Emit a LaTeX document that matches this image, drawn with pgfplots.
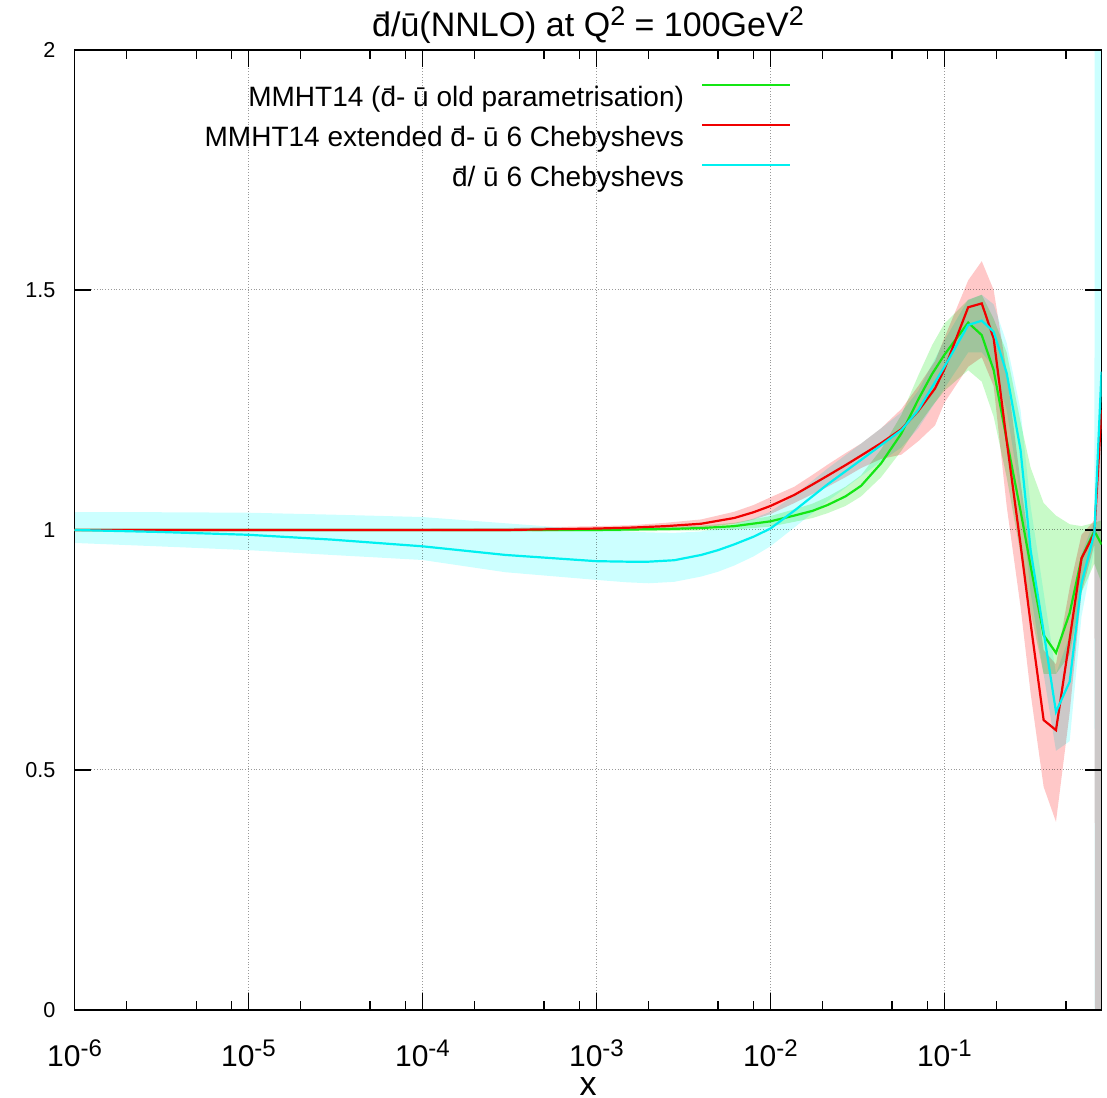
\documentclass[border=0pt]{standalone}
\usepackage{fontspec}
\setmainfont{Liberation Sans}
\usepackage{pgfplots}
\pgfplotsset{compat=1.18}
\usepgfplotslibrary{fillbetween}
\usepackage{pgfplotstable}

\definecolor{lgreen}{RGB}{20,230,20}
\definecolor{lred}{RGB}{240,0,0}
\definecolor{lcyan}{RGB}{0,240,240}
\definecolor{bgreen}{RGB}{200,250,200}
\definecolor{bred}{RGB}{255,200,200}
\definecolor{bcyan}{RGB}{204,255,255}

\newcommand\sups[3]{\raisebox{#1}{\fontsize{#2}{#2}\selectfont #3}}

\pgfplotstableread{
x y lo hi
1e-6 1.000 0.998 1.002
1e-5 1.000 0.998 1.002
1e-4 1.000 0.998 1.002
1e-3 1.000 0.997 1.003
2.5e-3 1.002 0.998 1.006
4e-3 1.004 0.999 1.009
6.2e-3 1.008 1.001 1.015
1e-2 1.018 1.007 1.029
0.0137 1.030 1.017 1.043
0.0175 1.040 1.025 1.055
0.0213 1.052 1.035 1.069
0.027 1.070 1.050 1.090
0.0332 1.092 1.070 1.114
0.0433 1.139 1.110 1.168
0.0566 1.201 1.165 1.240
0.0708 1.272 1.218 1.322
0.085 1.325 1.258 1.385
0.1 1.365 1.290 1.430
0.137 1.432 1.333 1.479
0.164 1.406 1.309 1.490
0.192 1.333 1.236 1.440
0.228 1.188 1.110 1.370
0.274 1.040 0.950 1.225
0.313 0.925 0.830 1.130
0.372 0.781 0.700 1.056
0.438 0.744 0.700 1.030
0.525 0.827 0.740 1.012
0.614 0.941 0.870 1.008
0.728 0.998 0.930 1.015
0.8 0.970 0.890 1.020
}\greentab

\pgfplotstableread{
x y lo hi
1e-6 1.000 0.997 1.003
1e-4 1.000 0.997 1.003
3e-4 1.000 0.997 1.004
1e-3 1.003 0.999 1.008
1.6e-3 1.005 1.000 1.010
2.5e-3 1.008 1.002 1.015
4e-3 1.013 1.005 1.022
6.2e-3 1.025 1.013 1.038
8e-3 1.037 1.022 1.052
1e-2 1.050 1.033 1.068
0.0137 1.073 1.056 1.090
0.0175 1.095 1.075 1.115
0.0213 1.113 1.090 1.136
0.027 1.135 1.110 1.160
0.0332 1.155 1.129 1.180
0.0433 1.181 1.148 1.212
0.0566 1.210 1.157 1.252
0.0708 1.248 1.185 1.300
0.0884 1.295 1.218 1.352
0.1 1.335 1.265 1.400
0.137 1.464 1.340 1.520
0.164 1.472 1.360 1.560
0.192 1.399 1.300 1.500
0.228 1.186 1.050 1.330
0.274 0.970 0.840 1.100
0.313 0.806 0.660 0.950
0.372 0.604 0.465 0.750
0.438 0.583 0.392 0.720
0.525 0.773 0.620 0.880
0.614 0.941 0.870 0.990
0.728 0.993 0.970 1.020
0.8 1.250 -10 1.350
}\redtab

\pgfplotstableread{
x y lo hi
1e-6 1.000 0.973 1.037
3e-6 0.996 0.966 1.037
1e-5 0.990 0.958 1.036
3e-5 0.980 0.948 1.032
1e-4 0.966 0.9375 1.027
3e-4 0.948 0.912 1.014
1e-3 0.935 0.896 1.000
1.5e-3 0.934 0.891 0.997
2e-3 0.934 0.889 0.995
2.8e-3 0.937 0.892 0.994
4e-3 0.948 0.903 0.997
5e-3 0.958 0.913 1.003
6.2e-3 0.970 0.926 1.012
8e-3 0.986 0.945 1.024
1e-2 1.003 0.966 1.038
0.0137 1.040 1.005 1.072
0.0213 1.095 1.060 1.128
0.0332 1.146 1.112 1.180
0.0433 1.177 1.143 1.212
0.0566 1.208 1.172 1.245
0.0708 1.250 1.212 1.290
0.1 1.340 1.295 1.395
0.137 1.427 1.370 1.480
0.164 1.436 1.370 1.490
0.192 1.413 1.340 1.470
0.228 1.327 1.250 1.390
0.274 1.167 1.070 1.250
0.313 0.958 0.870 1.050
0.372 0.788 0.700 0.870
0.438 0.621 0.540 0.700
0.525 0.684 0.560 0.780
0.614 0.889 0.820 0.950
0.728 0.993 0.960 1.020
0.8 1.330 -20 20
}\cyantab

\begin{document}
\begin{tikzpicture}
\begin{axis}[
  scale only axis, width=513.5pt, height=480pt,
  xmode=log, log basis x=10,
  xmin=1e-6, xmax=0.8, ymin=0, ymax=2,
  xtick={1e-6,1e-5,1e-4,1e-3,1e-2,1e-1},
  xticklabels={10\sups{5pt}{12}{-6},10\sups{5pt}{12}{-5},10\sups{5pt}{12}{-4},10\sups{5pt}{12}{-3},10\sups{5pt}{12}{-2},10\sups{5pt}{12}{-1}},
  minor xtick={2e-6,5e-6,8e-6,2e-5,5e-5,8e-5,2e-4,5e-4,8e-4,2e-3,5e-3,8e-3,2e-2,5e-2,8e-2,0.2,0.5,0.8},
  ytick={0,0.5,1,1.5,2}, yticklabels={0,0.5,1,1.5,2},
  grid=major, major grid style={densely dotted, gray!80, line width=0.5pt},
  tick align=inside,
  major tick length=8.5pt, minor tick length=4.5pt,
  every tick/.style={black, line width=0.6pt},
  axis line style={line width=0.6pt},
  xticklabel style={font=\fontsize{15}{18}\selectfont, anchor=base, yshift=-28.5pt},
  yticklabel style={font=\fontsize{10.8}{13}\selectfont, xshift=-6pt},
  every axis title shift=0pt,
  title={d̄/ū(NNLO) at Q\sups{5.5pt}{13.5}{2} = 100GeV\sups{5.5pt}{13.5}{2}},
  title style={font=\fontsize{17}{20}\selectfont, at={(0.5,1)}, anchor=base, yshift=6.5pt},
  xlabel={x},
  xlabel style={font=\fontsize{17}{20}\selectfont, at={(0.5,0)}, anchor=base, yshift=-43pt, inner sep=0pt},
  legend plot pos=right,
  legend cell align=right,
  legend image code/.code={%
    \path[draw=none, fill=none] (0pt,-6.5pt) rectangle (44pt,6.5pt);
    \draw[#1, overlay, line width=1.1pt] (0pt,7.5pt) -- (44pt,7.5pt);},
  legend style={at={(rel axis cs:0.6967,0.9615)}, anchor=north east,
    draw=none, fill=none, inner sep=0pt, outer sep=0pt,
    font=\fontsize{14}{16}\selectfont,
    nodes={text height=10pt, text depth=3pt, inner sep=0pt},
    row sep=7pt, column sep=9pt},
]
\addplot[lgreen, line width=1.1pt] table[x=x,y=y]{\greentab};
\addlegendentry{MMHT14 (d̄- ū old parametrisation)}
\addplot[lred, line width=1.1pt] table[x=x,y=y]{\redtab};
\addlegendentry{MMHT14 extended d̄- ū 6 Chebyshevs}
\addplot[lcyan, line width=1.1pt] table[x=x,y=y]{\cyantab};
\addlegendentry{d̄/ ū 6 Chebyshevs}

\addplot[name path=gl, draw=none, forget plot] table[x=x,y=lo]{\greentab};
\addplot[name path=gh, draw=none, forget plot] table[x=x,y=hi]{\greentab};
\addplot[bgreen, blend mode=multiply, forget plot] fill between[of=gl and gh];

\addplot[name path=rl, draw=none, forget plot] table[x=x,y=lo]{\redtab};
\addplot[name path=rh, draw=none, forget plot] table[x=x,y=hi]{\redtab};
\addplot[bred, blend mode=multiply, forget plot] fill between[of=rl and rh];

\addplot[name path=cl, draw=none, forget plot] table[x=x,y=lo]{\cyantab};
\addplot[name path=ch, draw=none, forget plot] table[x=x,y=hi]{\cyantab};
\addplot[bcyan, blend mode=multiply, forget plot] fill between[of=cl and ch];
\end{axis}
\pgfresetboundingbox
\path[use as bounding box] ([xshift=-37.25pt,yshift=-44pt]current axis.south west) rectangle ([xshift=2.75pt,yshift=25pt]current axis.north east);
\end{tikzpicture}
\end{document}
